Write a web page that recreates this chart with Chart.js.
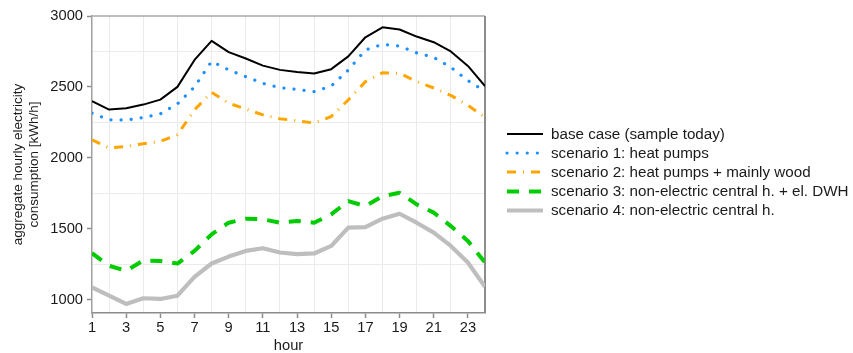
<!DOCTYPE html>
<html>
<head>
<meta charset="utf-8">
<script src="https://cdn.jsdelivr.net/npm/chart.js@4"></script>
<style>
  html, body { margin: 0; padding: 0; background: #ffffff; }
  canvas { display: block; }
</style>
</head>
<body>
<canvas id="c" width="853" height="353"></canvas>
<script>
// Hour of day
const hours = [1,2,3,4,5,6,7,8,9,10,11,12,13,14,15,16,17,18,19,20,21,22,23,24];

// Aggregate hourly electricity consumption [kWh/h]
const baseCase  = [2400,2340,2350,2375,2410,2500,2690,2825,2745,2700,2650,2620,2605,2595,2625,2715,2850,2920,2905,2855,2815,2750,2648,2505];
const scenario1 = [2315,2268,2266,2284,2310,2380,2500,2680,2620,2572,2525,2494,2482,2466,2506,2619,2760,2800,2788,2740,2708,2638,2545,2468];
const scenario2 = [2127,2069,2080,2099,2115,2162,2338,2462,2385,2343,2303,2275,2261,2245,2291,2408,2537,2600,2596,2537,2492,2440,2370,2285];
const scenario3 = [1327,1238,1203,1275,1272,1254,1343,1460,1542,1570,1566,1542,1554,1542,1601,1694,1659,1729,1753,1671,1613,1518,1413,1261];
const scenario4 = [1085,1027,969,1009,1004,1027,1160,1254,1303,1343,1362,1332,1320,1325,1378,1507,1511,1570,1605,1542,1472,1378,1261,1090];

const seriesNames = [
  'base case (sample today)',
  'scenario 1: heat pumps',
  'scenario 2: heat pumps + mainly wood',
  'scenario 3: non-electric central h. + el. DWH',
  'scenario 4: non-electric central h.'
];

// Axis ticks
const yTickValues = [1000,1250,1500,1750,2000,2250,2500,2750,3000];
const xTickValues = hours;

const FONT = '"Liberation Sans", Arial, sans-serif';
const TEXT = '#1a1a1a';

const datasets = [
  { label: seriesNames[0], data: baseCase,  borderColor: '#000000', borderWidth: 2,   borderDash: [] },
  { label: seriesNames[1], data: scenario1, borderColor: '#1e90ff', borderWidth: 3.2, borderDash: [0.1, 10], borderCapStyle: 'round' },
  { label: seriesNames[2], data: scenario2, borderColor: '#ffa500', borderWidth: 3,   borderDash: [9, 7, 1, 7], borderCapStyle: 'butt' },
  { label: seriesNames[3], data: scenario3, borderColor: '#00cc00', borderWidth: 4,   borderDash: [12, 10] },
  { label: seriesNames[4], data: scenario4, borderColor: '#bebebe', borderWidth: 4.2, borderDash: [] }
].map(d => Object.assign({
  fill: false, pointRadius: 0, tension: 0, borderJoinStyle: 'round'
}, d));

// Top and right frame of the plotting area
const framePlugin = {
  id: 'frame',
  beforeDatasetsDraw(chart) {
    const { ctx, chartArea: a } = chart;
    ctx.save();
    ctx.strokeStyle = '#a8a8a8';
    ctx.lineWidth = 1.5;
    ctx.beginPath();
    ctx.moveTo(a.left, a.top);
    ctx.lineTo(a.right, a.top);
    ctx.stroke();
    ctx.strokeStyle = '#8c8c8c';
    ctx.lineWidth = 2;
    ctx.beginPath();
    ctx.moveTo(a.right, a.top);
    ctx.lineTo(a.right, a.bottom);
    ctx.stroke();
    ctx.restore();
  }
};

// Line-style legend to the right of the plot
const lineLegend = {
  id: 'lineLegend',
  afterDraw(chart) {
    const { ctx } = chart;
    const x0 = 507, x1 = 543, tx = 551;
    const rows = [134, 153, 172, 191.5, 210.5];
    ctx.save();
    ctx.font = '15.2px ' + FONT;
    ctx.textBaseline = 'middle';
    ctx.fillStyle = TEXT;
    chart.data.datasets.forEach((ds, i) => {
      const y = rows[i];
      ctx.save();
      ctx.strokeStyle = ds.borderColor;
      ctx.lineWidth = ds.borderWidth;
      ctx.lineCap = ds.borderCapStyle || 'butt';
      ctx.setLineDash(ds.borderDash || []);
      ctx.beginPath();
      ctx.moveTo(x0, y);
      ctx.lineTo(x1, y);
      ctx.stroke();
      ctx.restore();
      ctx.fillText(ds.label, tx, y + 0.5);
    });
    ctx.restore();
  }
};

new Chart(document.getElementById('c'), {
  type: 'line',
  data: { labels: hours, datasets: datasets.map(d => Object.assign({}, d, { data: d.data.map((v, i) => ({ x: hours[i], y: v })) })) },
  options: {
    responsive: false,
    maintainAspectRatio: false,
    animation: false,
    layout: { padding: { left: 0, right: 368, top: 16, bottom: 0 } },
    plugins: { legend: { display: false }, tooltip: { enabled: false } },
    scales: {
      x: {
        type: 'linear',
        min: 1,
        max: 24,
        afterBuildTicks: s => { s.ticks = xTickValues.map(v => ({ value: v })); },
        afterFit: s => { s.height = 40; },
        ticks: {
          autoSkip: false,
          maxRotation: 0,
          padding: 1,
          color: TEXT,
          font: { family: FONT, size: 14.7 },
          callback: v => (v % 2 === 1 ? String(v) : '')
        },
        grid: {
          lineWidth: 1,
          color: c => (c.tick && c.tick.value % 2 === 0 ? '#ebebeb' : 'rgba(0,0,0,0)'),
          tickColor: c => (c.tick && c.tick.value % 2 === 1 ? '#8c8c8c' : 'rgba(0,0,0,0)'),
          tickLength: 5,
          tickWidth: 1.5
        },
        border: { display: true, color: '#8c8c8c', width: 1.5 },
        title: {
          display: true,
          text: 'hour',
          color: TEXT,
          font: { family: FONT, size: 14.7, lineHeight: 1 },
          padding: { top: 0, bottom: 0 }
        }
      },
      y: {
        min: 905,
        max: 3000,
        afterBuildTicks: s => { s.ticks = yTickValues.map(v => ({ value: v })); },
        afterFit: s => { s.width = 92; },
        ticks: {
          padding: 4,
          color: TEXT,
          font: { family: FONT, size: 14.7 },
          callback: v => (v % 500 === 0 ? String(v) : '')
        },
        grid: {
          lineWidth: 1,
          color: c => (c.tick && c.tick.value % 500 !== 0 ? '#ebebeb' : 'rgba(0,0,0,0)'),
          tickColor: c => (c.tick && c.tick.value % 500 === 0 ? '#8c8c8c' : 'rgba(0,0,0,0)'),
          tickLength: 5,
          tickWidth: 1.5
        },
        border: { display: true, color: '#a0a0a0', width: 1.5 },
        title: {
          display: true,
          text: ['aggregate hourly electricity', 'consumption [kWh/h]'],
          color: TEXT,
          font: { family: FONT, size: 13.5, lineHeight: 1.2 },
          padding: { top: 10, bottom: 0 }
        }
      }
    }
  },
  plugins: [framePlugin, lineLegend]
});
</script>
</body>
</html>
